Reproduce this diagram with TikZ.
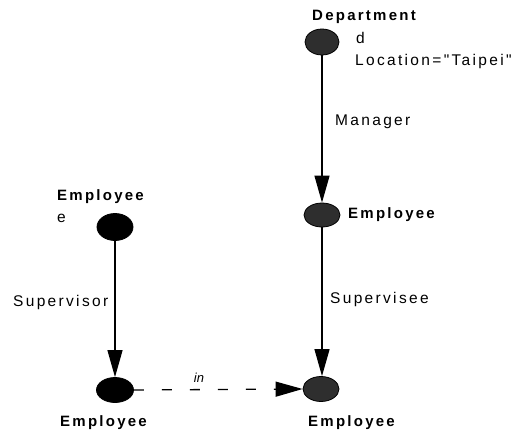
\documentclass[tikz,border=0pt]{standalone}
\usepackage{fontspec}
\setmainfont{Liberation Sans}
\newfontfamily\labfont[LetterSpace=15]{Liberation Sans}
\usetikzlibrary{arrows.meta,shapes.geometric}
\begin{document}
\begin{tikzpicture}[x=1pt,y=-1pt,
  obj/.style={ellipse,draw=black,line width=0.8pt,inner sep=0pt},
  solid obj/.style={obj,fill=black},
  tex obj/.style={obj,fill=black!82},
  lab/.style={anchor=west,inner sep=0pt,font=\labfont\fontsize{15.5}{17}\selectfont},
  blab/.style={anchor=west,inner sep=0pt,font=\labfont\bfseries\fontsize{15}{17}\selectfont},
  conn/.style={line width=1.3pt,-{Triangle[length=27pt,width=15pt]}},
  dconn/.style={conn,dash pattern=on 10pt off 18pt}]
\useasboundingbox (0,0) rectangle (517,436);
\fill[white] (0,0) rectangle (517,436);

% objects
\node[tex obj,minimum width=34pt,minimum height=26pt] (dep) at (322,42) {};
\node[tex obj,minimum width=36pt,minimum height=24pt] (emp2) at (322,215) {};
\node[tex obj,minimum width=36pt,minimum height=25pt] (emp3) at (321,389) {};
\node[solid obj,minimum width=36pt,minimum height=27pt] (emp0) at (115,227) {};
\node[solid obj,minimum width=37pt,minimum height=25pt] (emp1) at (115,390) {};

% connectors
\draw[conn] (dep.south) -- (emp2.north);
\draw[conn] (emp2.south) -- (emp3.north -| emp2.south);
\draw[conn] (emp0.south) -- (emp1.north);
\draw[dconn] (emp1.east) -- (emp3.west);

% texts
\node[blab] (tdep) at (312,17) {Department};
\node[lab] (td) at (356,38) {d};
\node[lab] (tloc) at (355,61) {Location="Taipei"};
\node[lab] (tman) at (335,122) {Manager};
\node[blab] (temp2) at (348,215) {Employee};
\node[lab] (tsupee) at (330,299) {Supervisee};
\node[blab] (temp0) at (57,197) {Employee};
\node[lab] (te) at (57,218) {e};
\node[lab] (tsup) at (13,302) {Supervisor};
\node[anchor=center,inner sep=0pt,font=\itshape\fontsize{13}{14}\selectfont] (tin) at (199,378) {in};
\node[blab] (temp1) at (60,423) {Employee};
\node[blab] (temp3) at (308,423) {Employee};
\end{tikzpicture}
\end{document}
